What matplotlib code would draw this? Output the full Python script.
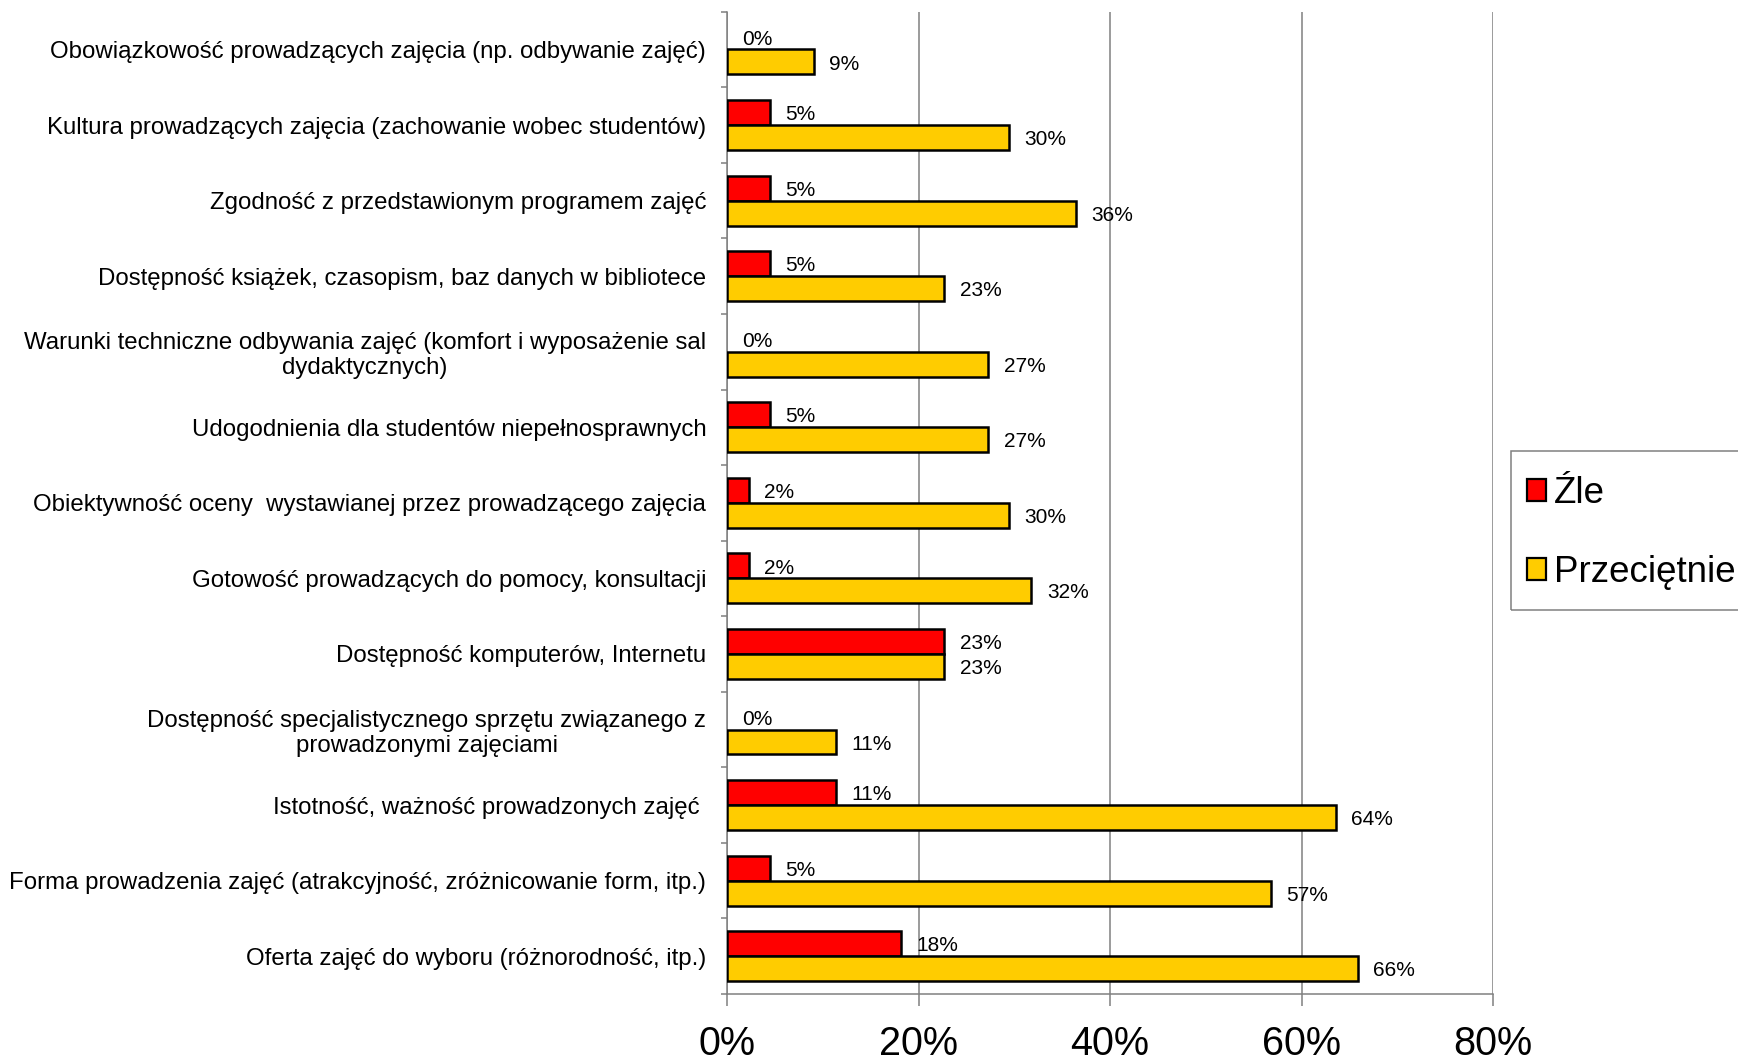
import numpy as np
import matplotlib
matplotlib.use("Agg")
import matplotlib.pyplot as plt
from matplotlib.patches import Rectangle

plt.rcParams['font.family'] = ['Liberation Sans', 'DejaVu Sans']

# Data (percent of answers)
categories = [
    "Obowiązkowość prowadzących zajęcia (np. odbywanie zajęć)",
    "Kultura prowadzących zajęcia (zachowanie wobec studentów)",
    "Zgodność z przedstawionym programem zajęć",
    "Dostępność książek, czasopism, baz danych w bibliotece",
    "Warunki techniczne odbywania zajęć (komfort i wyposażenie sal\ndydaktycznych)",
    "Udogodnienia dla studentów niepełnosprawnych",
    "Obiektywność oceny  wystawianej przez prowadzącego zajęcia",
    "Gotowość prowadzących do pomocy, konsultacji",
    "Dostępność komputerów, Internetu",
    "Dostępność specjalistycznego sprzętu związanego z\nprowadzonymi zajęciami",
    "Istotność, ważność prowadzonych zajęć ",
    "Forma prowadzenia zajęć (atrakcyjność, zróżnicowanie form, itp.)",
    "Oferta zajęć do wyboru (różnorodność, itp.)",
]
zle = [0, 4.5, 4.5, 4.5, 0, 4.5, 2.3, 2.3, 22.7, 0, 11.4, 4.5, 18.2]
przecietnie = [9.1, 29.5, 36.4, 22.7, 27.3, 27.3, 29.5, 31.8, 22.7, 11.4, 63.6, 56.8, 65.9]
series_names = ["Źle", "Przeciętnie"]
xticks = [0, 20, 40, 60, 80]

RED = "#FF0000"
YELLOW = "#FFCC00"
GRID = "#808080"

W, H = 1738, 1061
fig = plt.figure(figsize=(W / 100, H / 100), dpi=100)
ax = fig.add_axes([727 / W, 1 - 994 / H, 766 / W, 982.3 / H])

y = np.arange(len(categories))
h = 0.33

lw_red = [0 if v == 0 else 1.8 for v in zle]
b1 = ax.barh(y - h / 2, zle, height=h, color=RED, edgecolor="black",
             linewidth=lw_red, label=series_names[0], zorder=3)
b2 = ax.barh(y + h / 2, przecietnie, height=h, color=YELLOW, edgecolor="black",
             linewidth=1.8, label=series_names[1], zorder=3)

# value labels
for yy, v in zip(y - h / 2, zle):
    ax.annotate(f"{int(v + 0.5)}%", (v, yy), xytext=(11, -1.5), textcoords="offset points",
                ha="left", va="center", fontsize=15, zorder=4)
for yy, v in zip(y + h / 2, przecietnie):
    ax.annotate(f"{int(v + 0.5)}%", (v, yy), xytext=(11, -1.5), textcoords="offset points",
                ha="left", va="center", fontsize=15, zorder=4)

ax.set_xlim(0, 80)
ax.set_ylim(len(categories) - 0.5, -0.5)

ax.set_xticks(xticks)
ax.set_xticklabels([f"{t}%" for t in xticks], fontsize=28.5)
ax.xaxis.grid(True, color=GRID, linewidth=1.1, zorder=0)
ax.tick_params(axis="x", length=8.5, width=1.1, color=GRID, pad=13.5)

ax.set_yticks(y)
ax.set_yticklabels(categories, fontsize=17.25, linespacing=1.15)
for lab in ax.get_yticklabels():
    lab.set_multialignment("center")
ax.set_yticks(np.arange(len(categories) + 1) - 0.5, minor=True)
ax.tick_params(axis="y", which="major", length=0, pad=15)
ax.tick_params(axis="y", which="minor", length=4.5, width=1.1, color=GRID)

for s in ["top", "right"]:
    ax.spines[s].set_visible(False)
ax.spines["left"].set_color(GRID)
ax.spines["bottom"].set_color(GRID)
ax.spines["left"].set_linewidth(1.1)
ax.spines["bottom"].set_linewidth(1.1)

# legend frame (runs past the right edge of the picture)
fig.patches.append(Rectangle((1511 / W, 1 - 610 / H), 0.3, 159 / H,
                             transform=fig.transFigure, fill=False,
                             edgecolor=GRID, linewidth=1.1))
leg = fig.legend(handles=[b1, b2], loc="center left",
                 bbox_to_anchor=(1527 / W, 1 - 533 / H), borderaxespad=0,
                 fontsize=26.5, frameon=False,
                 handlelength=0.52, handleheight=0.52, handletextpad=0.22,
                 labelspacing=1.2, borderpad=0)
for hnd in leg.legend_handles:
    hnd.set_edgecolor("black")
    hnd.set_linewidth(1.6)

fig.savefig("out.png", dpi=100)
